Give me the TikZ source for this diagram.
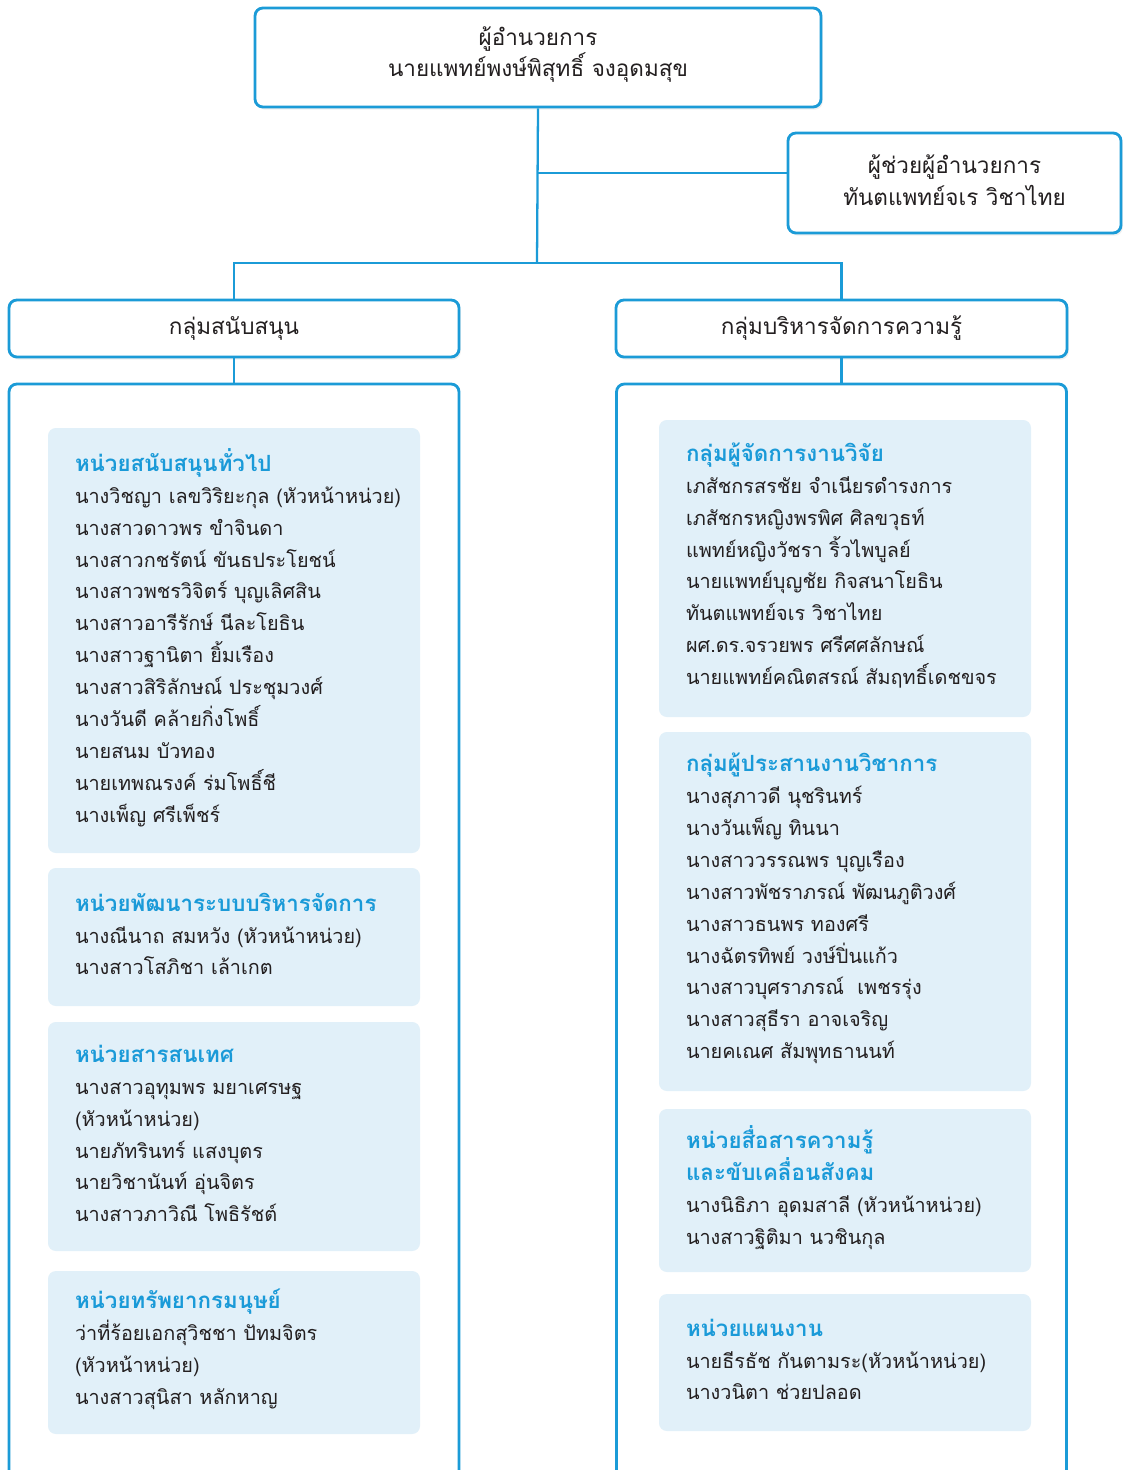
\documentclass[tikz,border=0pt]{standalone}
\usepackage{fontspec}
\setmainfont[Script=Thai]{Loma}
\usetikzlibrary{shadows}
\definecolor{lineblue}{HTML}{1B9BD7}
\definecolor{titleblue}{HTML}{1A9AD8}
\definecolor{cardfill}{HTML}{E1F0F9}
\definecolor{inkdark}{HTML}{231F20}
\newcommand{\unittitle}[1]{{\color{titleblue}\bfseries\fontsize{12.7}{18.14}\selectfont #1}}

\begin{document}
\begin{tikzpicture}[
  x=0.02cm, y=-0.02cm,
  every node/.style={font=\fontsize{11.3}{18.14}\selectfont, text=inkdark},
  headbox/.style={draw=lineblue, line width=1.6pt, rounded corners=4.5pt, fill=white,
    align=center, inner sep=0pt, font=\fontsize{12.8}{18.14}\selectfont,
    drop shadow={opacity=0.12, shadow xshift=1pt, shadow yshift=-1.5pt}},
  headtext/.style={align=center, inner sep=0pt, font=\fontsize{12.8}{18.14}\selectfont, yshift=0.06cm},
  panel/.style={draw=lineblue, line width=1.6pt, rounded corners=4.5pt, fill=white,
    inner sep=0pt, minimum width=450*0.02cm, minimum height=1136*0.02cm},
  card/.style={fill=cardfill, rounded corners=4.5pt, inner sep=0pt, minimum width=372*0.02cm},
  names/.style={anchor=west, align=left, inner sep=0pt, xshift=27*0.02cm, yshift=0.06cm},
  link/.style={draw=lineblue, line width=1.3pt}
]
\useasboundingbox (0,0) rectangle (1124,1470);
\clip (0,0) rectangle (1124,1470);

% Director and assistant
\node[headbox, minimum width=566*0.02cm, minimum height=99*0.02cm] (dir) at (538,57.5) {};
\node[headtext] (dir-t) at (dir) {ผู้อำนวยการ\\นายแพทย์พงษ์พิสุทธิ์ จงอุดมสุข};
\node[headbox, minimum width=333*0.02cm, minimum height=100*0.02cm] (asst) at (954.5,183) {};
\node[headtext] (asst-t) at (asst) {ผู้ช่วยผู้อำนวยการ\\ทันตแพทย์จเร วิชาไทย};
\coordinate (split) at (537,263);
\coordinate (asst-in) at ([yshift=0.2cm]asst.west);

% Groups
\node[headbox, minimum width=450*0.02cm, minimum height=57*0.02cm] (sup) at (234,328.5) {กลุ่มสนับสนุน};
\node[headbox, minimum width=451*0.02cm, minimum height=57*0.02cm] (km) at (841.5,328.5) {กลุ่มบริหารจัดการความรู้};

% Panels (open at the bottom edge)
\node[panel] (suppanel) at (234,952) {};
\node[panel] (kmpanel) at (841.5,952) {};

% Connectors
\draw[link] (dir.south) -- (split);
\draw[link] (dir.south |- asst-in) -- (asst-in);
\draw[link] (sup.north) |- (split) -| (km.north);
\draw[link] (sup.south) -- (suppanel.north);
\draw[link] (km.south) -- (kmpanel.north);

% Left cards
\node[card, minimum height=425*0.02cm] (gen) at (234,640.5) {};
\node[names] (gen-t) at (gen.west) {\unittitle{หน่วยสนับสนุนทั่วไป}\\
  นางวิชญา เลขวิริยะกุล (หัวหน้าหน่วย)\\
  นางสาวดาวพร ขำจินดา\\
  นางสาวกชรัตน์ ขันธประโยชน์\\
  นางสาวพชรวิจิตร์ บุญเลิศสิน\\
  นางสาวอารีรักษ์ นีละโยธิน\\
  นางสาวฐานิตา ยิ้มเรือง\\
  นางสาวสิริลักษณ์ ประชุมวงศ์\\
  นางวันดี คล้ายกิ่งโพธิ์\\
  นายสนม บัวทอง\\
  นายเทพณรงค์ ร่มโพธิ์ชี\\
  นางเพ็ญ ศรีเพ็ชร์};

\node[card, minimum height=138*0.02cm] (dev) at (234,937) {};
\node[names] (dev-t) at (dev.west) {\unittitle{หน่วยพัฒนาระบบบริหารจัดการ}\\
  นางณีนาถ สมหวัง (หัวหน้าหน่วย)\\
  นางสาวโสภิชา เล้าเกต};

\node[card, minimum height=229*0.02cm] (info) at (234,1136.5) {};
\node[names] (info-t) at (info.west) {\unittitle{หน่วยสารสนเทศ}\\
  นางสาวอุทุมพร มยาเศรษฐ\\
  (หัวหน้าหน่วย)\\
  นายภัทรินทร์ แสงบุตร\\
  นายวิชานันท์ อุ่นจิตร\\
  นางสาวภาวิณี โพธิรัชต์};

\node[card, minimum height=163*0.02cm] (hr) at (234,1352.5) {};
\node[names] (hr-t) at (hr.west) {\unittitle{หน่วยทรัพยากรมนุษย์}\\
  ว่าที่ร้อยเอกสุวิชชา ปัทมจิตร\\
  (หัวหน้าหน่วย)\\
  นางสาวสุนิสา หลักหาญ};

% Right cards
\node[card, minimum height=297*0.02cm] (res) at (845,568.5) {};
\node[names] (res-t) at (res.west) {\unittitle{กลุ่มผู้จัดการงานวิจัย}\\
  เภสัชกรสรชัย จำเนียรดำรงการ\\
  เภสัชกรหญิงพรพิศ ศิลขวุธท์\\
  แพทย์หญิงวัชรา ริ้วไพบูลย์\\
  นายแพทย์บุญชัย กิจสนาโยธิน\\
  ทันตแพทย์จเร วิชาไทย\\
  ผศ.ดร.จรวยพร ศรีศศลักษณ์\\
  นายแพทย์คณิตสรณ์ สัมฤทธิ์เดชขจร};

\node[card, minimum height=359*0.02cm] (aca) at (845,911.5) {};
\node[names] (aca-t) at (aca.west) {\unittitle{กลุ่มผู้ประสานงานวิชาการ}\\
  นางสุภาวดี นุชรินทร์\\
  นางวันเพ็ญ ทินนา\\
  นางสาววรรณพร บุญเรือง\\
  นางสาวพัชราภรณ์ พัฒนภูติวงศ์\\
  นางสาวธนพร ทองศรี\\
  นางฉัตรทิพย์ วงษ์ปิ่นแก้ว\\
  นางสาวบุศราภรณ์\ \ เพชรรุ่ง\\
  นางสาวสุธีรา อาจเจริญ\\
  นายคเณศ สัมพุทธานนท์};

\node[card, minimum height=163*0.02cm] (com) at (845,1190.5) {};
\node[names] (com-t) at (com.west) {\unittitle{หน่วยสื่อสารความรู้}\\
  \unittitle{และขับเคลื่อนสังคม}\\
  นางนิธิภา อุดมสาลี (หัวหน้าหน่วย)\\
  นางสาวฐิติมา นวชินกุล};

\node[card, minimum height=137*0.02cm] (plan) at (845,1362.5) {};
\node[names] (plan-t) at (plan.west) {\unittitle{หน่วยแผนงาน}\\
  นายธีรธัช กันตามระ(หัวหน้าหน่วย)\\
  นางวนิตา ช่วยปลอด};

\end{tikzpicture}
\end{document}
